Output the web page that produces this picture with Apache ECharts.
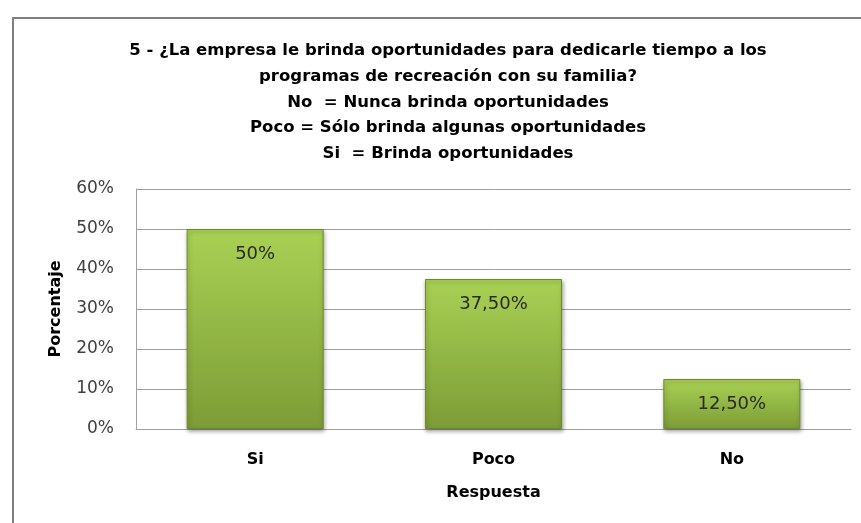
<!DOCTYPE html>
<html>
<head>
<meta charset="utf-8">
<script src="https://cdn.jsdelivr.net/npm/echarts@6/dist/echarts.min.js"></script>
<style>
    html, body { margin: 0; padding: 0; background: #fff; }
    #chart { width: 861px; height: 523px; }
</style>
</head>
<body>
<div id="chart"></div>
<script>
var categories = ['Si', 'Poco', 'No'];
var porcentajes = [50, 37.5, 12.5];
var yTicks = [0, 10, 20, 30, 40, 50, 60];

var titleLines = [
    '5 - ¿La empresa le brinda oportunidades para dedicarle tiempo a los',
    'programas de recreación con su familia?',
    'No  = Nunca brinda oportunidades',
    'Poco = Sólo brinda algunas oportunidades',
    'Si  = Brinda oportunidades'
];

function fmtPct(v) {
    if (Math.round(v) === v) return v + '%';
    return v.toFixed(2).replace('.', ',') + '%';
}

var chart = echarts.init(document.getElementById('chart'));
var option = {
    backgroundColor: '#fff',
    animation: false,
    textStyle: { fontFamily: 'DejaVu Sans' },
    title: {
        text: titleLines.join('\n'),
        left: 443,
        top: 33,
        textAlign: 'center',
        textStyle: {
            fontFamily: 'DejaVu Sans',
            fontSize: 16.5,
            fontWeight: 'bold',
            color: '#000',
            lineHeight: 25.7
        }
    },
    graphic: [
        {
            type: 'rect',
            shape: { x: 13, y: 18, width: 900, height: 600 },
            style: { fill: 'none', stroke: '#7f7f7f', lineWidth: 2 },
            silent: true
        }
    ],
    grid: { left: 136, right: 10, top: 189, bottom: 94, containLabel: false },
    xAxis: {
        type: 'category',
        data: categories,
        name: 'Respuesta',
        nameLocation: 'middle',
        nameGap: 56,
        nameTextStyle: { fontSize: 16, fontWeight: 'bold', color: '#000' },
        axisLine: { show: true, lineStyle: { color: '#a0a0a0', width: 1 } },
        axisTick: { show: false },
        axisLabel: { fontSize: 16, fontWeight: 'bold', color: '#000', margin: 23 }
    },
    yAxis: {
        type: 'value',
        min: yTicks[0],
        max: yTicks[yTicks.length - 1],
        interval: yTicks[1] - yTicks[0],
        name: 'Porcentaje',
        nameLocation: 'middle',
        nameRotate: 90,
        nameGap: 72,
        nameTextStyle: { fontSize: 16, fontWeight: 'bold', color: '#000' },
        axisLine: { show: true, lineStyle: { color: '#a0a0a0', width: 1 } },
        axisTick: { show: false },
        splitLine: { lineStyle: { color: '#a0a0a0', width: 1 } },
        axisLabel: {
            fontSize: 17,
            color: '#404040',
            margin: 22,
            formatter: function (v) { return v + '%'; }
        }
    },
    series: [
        {
            type: 'bar',
            data: porcentajes,
            barWidth: '57.5%',
            itemStyle: {
                color: new echarts.graphic.LinearGradient(0, 0, 0, 1, [
                    { offset: 0, color: '#a9d154' },
                    { offset: 1, color: '#7c9c36' }
                ]),
                borderColor: '#6d8b2c',
                borderWidth: 1,
                shadowColor: 'rgba(0,0,0,0.35)',
                shadowBlur: 4,
                shadowOffsetX: 1,
                shadowOffsetY: 2
            },
            label: {
                show: true,
                position: 'insideTop',
                distance: 16,
                fontSize: 18,
                color: '#2a2a2a',
                formatter: function (p) { return fmtPct(p.value); }
            }
        }
    ]
};
chart.setOption(option);
</script>
</body>
</html>
